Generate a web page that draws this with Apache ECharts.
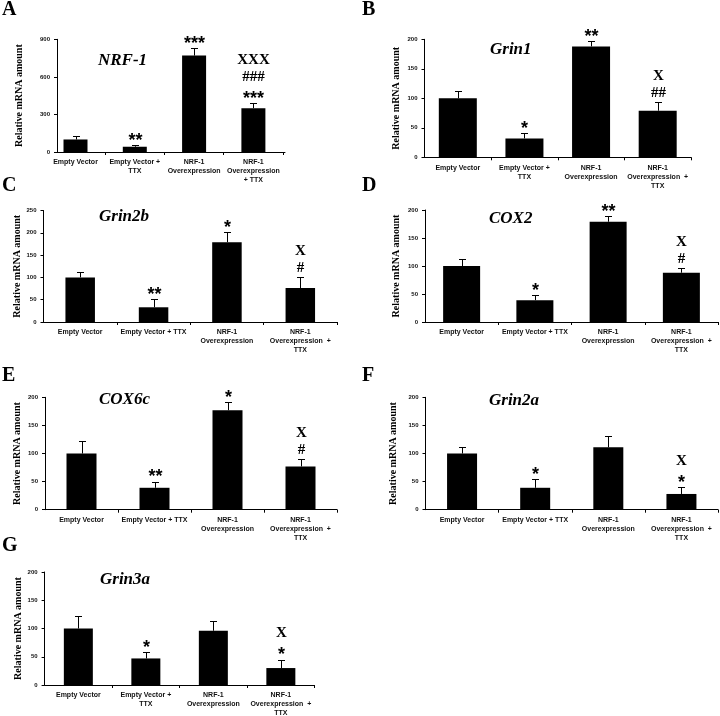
<!DOCTYPE html>
<html><head><meta charset="utf-8">
<script src="https://cdn.jsdelivr.net/npm/echarts@6/dist/echarts.min.js"></script>
<style>html,body{margin:0;padding:0;background:#fff}#c{width:720px;height:716px}</style>
</head><body><div id="c"></div>
<script>
// ---------------- data ----------------
const panelLetters = ["A", "B", "C", "D", "E", "F", "G"];
const genes = ["NRF-1", "Grin1", "Grin2b", "COX2", "COX6c", "Grin2a", "Grin3a"];
const yAxisTitle = "Relative mRNA amount";

const catsA = ["Empty Vector", "Empty Vector +\nTTX", "NRF-1\nOverexpression", "NRF-1\nOverexpression\n+ TTX"];
const catsB = ["Empty Vector", "Empty Vector +\nTTX", "NRF-1\nOverexpression", "NRF-1\nOverexpression  +\nTTX"];
const catsCDEF = ["Empty Vector", "Empty Vector + TTX", "NRF-1\nOverexpression", "NRF-1\nOverexpression  +\nTTX"];
const catsG = ["Empty Vector", "Empty Vector +\nTTX", "NRF-1\nOverexpression", "NRF-1\nOverexpression  +\nTTX"];

const yMaxes = [900, 200, 250, 200, 200, 200, 200];
const ySteps = [300, 50, 50, 50, 50, 50, 50];

const nrf1 = [100, 42, 770, 350];
const nrf1Err = [25, 14, 58, 40];
const nrf1Marks = [[], ["**"], ["***"], ["XXX", "###", "***"]];

const grin1 = [100, 32, 188, 79];
const grin1Err = [12, 9, 9, 14];
const grin1Marks = [[], ["*"], ["**"], ["X", "##"]];

const grin2b = [100, 33, 179, 76];
const grin2bErr = [12, 19, 23, 24];
const grin2bMarks = [[], ["**"], ["*"], ["X", "#"]];

const cox2 = [100, 39, 179, 88];
const cox2Err = [12, 9, 10, 8];
const cox2Marks = [[], ["*"], ["**"], ["X", "#"]];

const cox6c = [100, 39, 177, 77];
const cox6cErr = [22, 11, 14, 13];
const cox6cMarks = [[], ["**"], ["*"], ["X", "#"]];

const grin2a = [100, 39, 111, 28];
const grin2aErr = [12, 15, 21, 12];
const grin2aMarks = [[], ["*"], [], ["X", "*"]];

const grin3a = [100, 47, 96, 30];
const grin3aErr = [22, 11, 18, 15];
const grin3aMarks = [[], ["*"], [], ["X", "*"]];

// ---------------- assembly ----------------
const panels = [
  { cats: catsA, vals: nrf1, err: nrf1Err, marks: nrf1Marks },
  { cats: catsB, vals: grin1, err: grin1Err, marks: grin1Marks },
  { cats: catsCDEF, vals: grin2b, err: grin2bErr, marks: grin2bMarks },
  { cats: catsCDEF, vals: cox2, err: cox2Err, marks: cox2Marks },
  { cats: catsCDEF, vals: cox6c, err: cox6cErr, marks: cox6cMarks },
  { cats: catsCDEF, vals: grin2a, err: grin2aErr, marks: grin2aMarks },
  { cats: catsG, vals: grin3a, err: grin3aErr, marks: grin3aMarks }
];

// layout (pixels)
const layout = [
  { l: 57, r: 285, t: 39.3, b: 152, xMin: -0.312, xMax: 3.533, bw: 24, gap: 33, tx: 98, ty: 62, lx: 2, ly: 10 },
  { l: 424.5, r: 691, t: 39.3, b: 157.3, xMin: -0.5, xMax: 3.5, bw: 38, gap: 23, tx: 490, ty: 50.7, lx: 362, ly: 10 },
  { l: 43.5, r: 337, t: 210.5, b: 322, xMin: -0.5, xMax: 3.5, bw: 29.5, gap: 17, tx: 99, ty: 218, lx: 2, ly: 185.5 },
  { l: 425, r: 718, t: 210, b: 322, xMin: -0.5, xMax: 3.5, bw: 37, gap: 24, tx: 489, ty: 219.3, lx: 362, ly: 185.5 },
  { l: 45, r: 337, t: 397.3, b: 509.7, xMin: -0.5, xMax: 3.5, bw: 30, gap: 23, tx: 99, ty: 401, lx: 2, ly: 375.5 },
  { l: 425.5, r: 718, t: 397.3, b: 509.7, xMin: -0.5, xMax: 3.5, bw: 30, gap: 27, tx: 489, ty: 401.7, lx: 362, ly: 375.5 },
  { l: 44.6, r: 314.6, t: 572, b: 685, xMin: -0.5, xMax: 3.5, bw: 29, gap: 18, tx: 100, ty: 581, lx: 2, ly: 545.5 }
];

function makeRender(marks) {
  return function (params, api) {
    const x = api.value(0), v = api.value(1), e = api.value(2);
    const p0 = api.coord([x, v]);
    const p1 = api.coord([x, v + e]);
    const cx = Math.round(p0[0]) + 0.5;
    const yt = Math.round(p1[1]) + 0.5;
    const children = [
      { type: 'line', shape: { x1: cx, y1: p0[1], x2: cx, y2: yt }, style: { stroke: '#000', lineWidth: 1 } },
      { type: 'line', shape: { x1: cx - 3.5, y1: yt, x2: cx + 3.5, y2: yt }, style: { stroke: '#000', lineWidth: 1 } }
    ];
    const lines = marks[params.dataIndex] || [];
    const n = lines.length;
    for (let j = 0; j < n; j++) {
      const level = n - 1 - j;
      const target = p1[1] - 9 - level * 17;
      const isStar = /^\*+$/.test(lines[j]);
      const fs = isStar ? 18 : 15;
      children.push({
        type: 'text',
        style: {
          text: lines[j], x: cx, y: target + (isStar ? 0.27 * fs : 0),
          align: 'center', verticalAlign: 'middle',
          font: isStar ? 'bold ' + fs + 'px "Liberation Sans"' : 'bold ' + fs + 'px "Liberation Serif"',
          fill: '#000'
        }
      });
    }
    return { type: 'group', children: children };
  };
}

const grid = [], xAxis = [], yAxis = [], series = [], title = [];
panels.forEach(function (p, i) {
  const L = layout[i];
  grid.push({ left: L.l, top: L.t, width: L.r - L.l, height: L.b - L.t, containLabel: false, outerBoundsMode: 'none' });
  const ticks = [0.5, 1.5, 2.5, 3.5].filter(function (t) { return t <= L.xMax + 1e-6; });
  xAxis.push({
    gridIndex: i, type: 'value', min: L.xMin, max: L.xMax,
    axisLine: { show: true, onZero: false, lineStyle: { color: '#000', width: 1 } },
    axisTick: { show: true, customValues: ticks, length: 3, lineStyle: { color: '#000' } },
    axisLabel: {
      customValues: [0, 1, 2, 3],
      formatter: (function (cats) { return function (v) { return cats[Math.round(v)]; }; })(p.cats),
      fontSize: 7, fontWeight: 'bold', fontFamily: 'Liberation Sans', color: '#111', lineHeight: 9, margin: 6
    },
    splitLine: { show: false }
  });
  yAxis.push({
    gridIndex: i, type: 'value', min: 0, max: yMaxes[i], interval: ySteps[i],
    axisLine: { show: true, onZero: false, lineStyle: { color: '#000', width: 1 } },
    axisTick: { show: true, length: 3, lineStyle: { color: '#000' } },
    axisLabel: { fontSize: 6, fontWeight: 'bold', fontFamily: 'Liberation Sans', color: '#111', margin: 7 },
    splitLine: { show: false },
    name: yAxisTitle, nameLocation: 'middle', nameGap: L.gap, nameRotate: 90,
    nameTextStyle: { fontFamily: 'Liberation Serif', fontWeight: 'bold', fontSize: 10, color: '#000' }
  });
  series.push({
    type: 'bar', xAxisIndex: i, yAxisIndex: i, barWidth: L.bw, silent: true,
    itemStyle: { color: '#000' },
    data: p.vals.map(function (v, k) { return [k, v]; })
  });
  series.push({
    type: 'custom', xAxisIndex: i, yAxisIndex: i, silent: true, clip: false, z: 5,
    renderItem: makeRender(p.marks),
    encode: { x: 0, y: 1 },
    data: p.vals.map(function (v, k) { return [k, v, p.err[k]]; })
  });
  title.push({
    text: genes[i], left: L.tx, top: L.ty - 9.5, padding: 0,
    textStyle: { fontFamily: 'Liberation Serif', fontWeight: 'bold', fontStyle: 'italic', fontSize: 17, color: '#000' }
  });
  title.push({
    text: panelLetters[i], left: L.lx, top: L.ly - 10, padding: 0,
    textStyle: { fontFamily: 'Liberation Serif', fontWeight: 'bold', fontSize: 20, color: '#000' }
  });
});

const chart = echarts.init(document.getElementById('c'), null, { renderer: 'canvas' });
chart.setOption({
  backgroundColor: '#fff',
  animation: false,
  title: title,
  grid: grid, xAxis: xAxis, yAxis: yAxis, series: series
});
</script>
</body></html>
